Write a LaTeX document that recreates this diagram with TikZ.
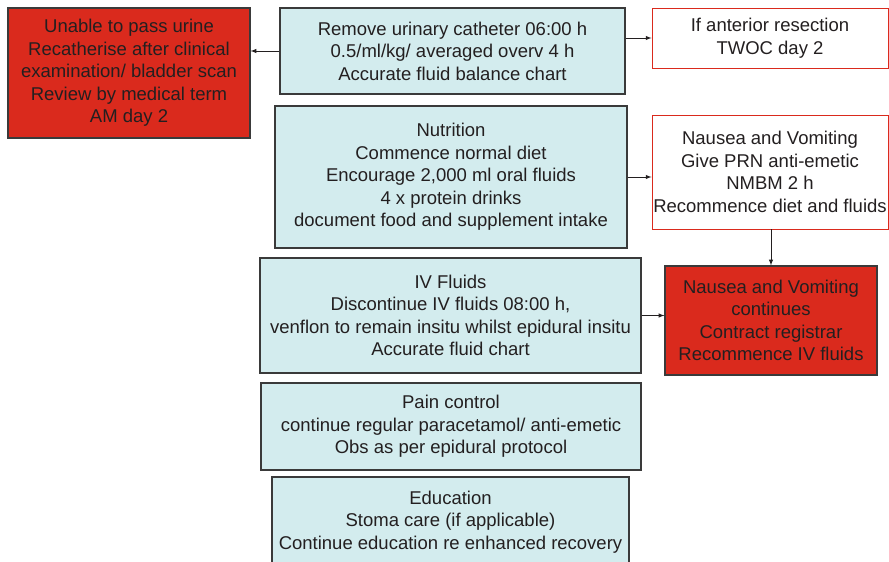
\documentclass[tikz,border=0pt]{standalone}
\usepackage{fontspec}
\setmainfont{Liberation Sans}
\usetikzlibrary{calc,positioning}
\definecolor{StepBlue}{HTML}{D3ECEE}
\definecolor{AlertRed}{HTML}{DA2A1D}
\definecolor{EdgeGrey}{HTML}{3A3A3A}
\definecolor{InkGrey}{HTML}{231F20}

\begin{document}
\begin{tikzpicture}[x=1pt,y=-1pt,
  every node/.style={draw=EdgeGrey,line width=1.2pt,align=center,text=InkGrey,font=\fontsize{18.5}{22.5}\selectfont,inner sep=0pt},
  stepbox/.style={fill=StepBlue},
  alertbox/.style={fill=AlertRed},
  notebox/.style={draw=AlertRed,line width=0.9pt,fill=white},
  flow/.style={draw=InkGrey,line width=1pt,-latex}]
\clip (0,0) rectangle (889,562);
\node [alertbox,minimum width=242pt,minimum height=130pt] (Retention) at (129,73) {Unable to pass urine\\Recatherise after clinical\\examination/ bladder scan\\Review by medical term\\AM day 2};
\node [stepbox,minimum width=345pt,minimum height=86pt] (Catheter) at (452.5,51) {Remove urinary catheter 06:00 h\\0.5/ml/kg/ averaged overv 4 h\\Accurate fluid balance chart};
\node [notebox,minimum width=236pt,minimum height=60pt] (Twoc) at (770,38) {If anterior resection\\TWOC day 2};
\node [stepbox,minimum width=352pt,minimum height=142pt] (Nutrition) at (451,177) {Nutrition\\Commence normal diet\\Encourage 2,000 ml oral fluids\\4 x protein drinks\\document food and supplement intake};
\node [notebox,minimum width=236pt,minimum height=114pt] (Nausea) at (770,172) {Nausea and Vomiting\\Give PRN anti-emetic\\NMBM 2 h\\Recommence diet and fluids};
\node [stepbox,minimum width=381pt,minimum height=115pt] (IvFluids) at (450.5,315.5) {IV Fluids\\Discontinue IV fluids 08:00 h,\\venflon to remain insitu whilst epidural insitu\\Accurate fluid chart};
\node [alertbox,minimum width=212pt,minimum height=109pt] (NauseaCont) at (771,320.5) {Nausea and Vomiting\\continues\\Contract registrar\\Recommence IV fluids};
\node [stepbox,minimum width=380pt,minimum height=87pt] (Pain) at (451,426.5) {Pain control\\continue regular paracetamol/ anti-emetic\\Obs as per epidural protocol};
\node [stepbox,minimum width=357pt,minimum height=90pt] (Education) at (450.5,522) {Education\\Stoma care (if applicable)\\Continue education re enhanced recovery};
% connectors
\draw [flow] (Catheter.west) -- (Catheter.west -| Retention.east);
\draw [flow] (Twoc.west -| Catheter.east) -- (Twoc.west);
\draw [flow] (Nutrition.east) -- (Nutrition.east -| Nausea.west);
\draw [flow] (Nausea.south -| NauseaCont.north) -- (NauseaCont.north);
\draw [flow] (IvFluids.east) -- (IvFluids.east -| NauseaCont.west);
\end{tikzpicture}
\end{document}
